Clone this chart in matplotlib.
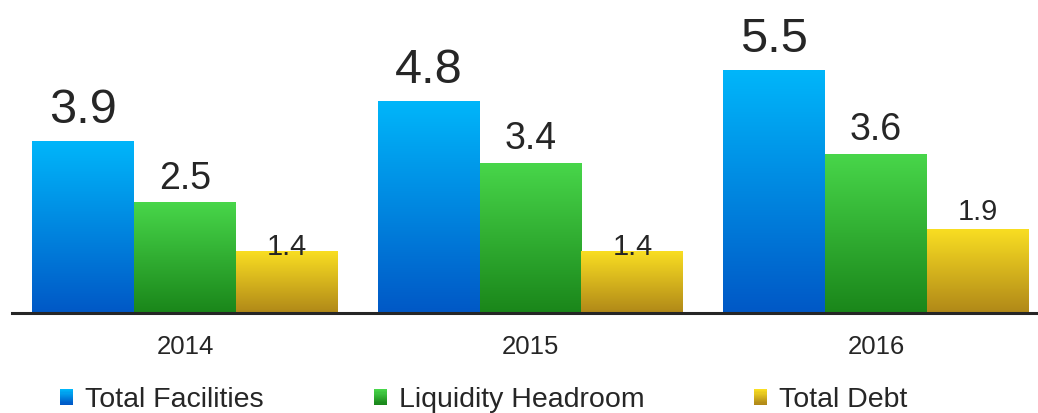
import matplotlib
matplotlib.use("Agg")
import matplotlib.pyplot as plt
import numpy as np
from matplotlib.colors import LinearSegmentedColormap
from matplotlib.legend_handler import HandlerBase
from matplotlib.patches import Rectangle

years = ["2014", "2015", "2016"]
series_names = ["Total Facilities", "Liquidity Headroom", "Total Debt"]
total_facilities = [3.9, 4.8, 5.5]
liquidity_headroom = [2.5, 3.4, 3.6]
total_debt = [1.4, 1.4, 1.9]

# gradient colours per series: (top, bottom)
grad_colors = [("#00b6fa", "#0058c6"), ("#48d64a", "#1a861a"), ("#f9de22", "#b08818")]
label_sizes = [35, 27, 21]
# gap between bar top and label baseline, in points
label_gaps = [[13, 13, 13], [10, 10, 10], [-3, -3, 6.5]]
text_color = "#262626"

plt.rcParams["font.family"] = ["Liberation Sans", "DejaVu Sans"]


class GradientHandler(HandlerBase):
    def __init__(self, top, bottom, steps=14):
        super().__init__()
        self.cmap = LinearSegmentedColormap.from_list("g", [bottom, top])
        self.steps = steps

    def create_artists(self, legend, orig_handle, xdescent, ydescent,
                       width, height, fontsize, trans):
        h = height / self.steps
        arts = []
        for i in range(self.steps):
            arts.append(Rectangle((-xdescent, -ydescent + i * h), width, h * 1.05,
                                  facecolor=self.cmap(i / (self.steps - 1)),
                                  edgecolor="none", transform=trans))
        return arts


def main() -> None:
    fig = plt.figure(figsize=(10.38, 4.13), dpi=100)
    ax = fig.add_axes([12 / 1038, 100 / 413, 1026 / 1038, 313 / 413])

    x = np.arange(len(years))
    width = 0.295
    values = [total_facilities, liquidity_headroom, total_debt]

    for i, vals in enumerate(values):
        top, bottom = grad_colors[i]
        cmap = LinearSegmentedColormap.from_list(f"c{i}", [bottom, top])
        grad = np.linspace(1, 0, 256).reshape(-1, 1)
        bars = ax.bar(x + (i - 1) * width, vals, width, color="none", edgecolor="none")
        for j, b in enumerate(bars):
            x0, h, w = b.get_x(), b.get_height(), b.get_width()
            ax.imshow(grad, extent=[x0, x0 + w, 0, h], aspect="auto", cmap=cmap,
                      interpolation="bilinear", zorder=2)
            ax.annotate(f"{vals[j]:.1f}", (x0 + w / 2, h), xytext=(0, label_gaps[i][j]),
                        textcoords="offset points", ha="center", va="baseline",
                        fontsize=label_sizes[i], color=text_color, zorder=3)

    ax.set_xlim(-0.5007, 2.469)
    ax.set_ylim(0, 7.098)
    ax.set_xticks(x)
    ax.set_xticklabels(years, fontsize=18.5, color=text_color)
    ax.tick_params(axis="x", length=0, pad=16)
    ax.set_yticks([])
    for side in ["top", "right", "left"]:
        ax.spines[side].set_visible(False)
    ax.spines["bottom"].set_color(text_color)
    ax.spines["bottom"].set_linewidth(2.2)
    ax.spines["bottom"].set_zorder(4)

    handles = [Rectangle((0, 0), 1, 1) for _ in series_names]
    hmap = {h: GradientHandler(*grad_colors[k]) for k, h in enumerate(handles)}
    fig.legend(handles, series_names, handler_map=hmap, loc="center left",
               bbox_to_anchor=(60 / 1038, 13 / 413), ncol=3, frameon=False,
               fontsize=20.5, handlelength=0.46, handleheight=0.46,
               handletextpad=0.42, columnspacing=3.86, borderpad=0,
               borderaxespad=0, labelcolor=text_color)

    fig.savefig("out.png", dpi=100)
    plt.close(fig)


if __name__ == "__main__":
    main()
